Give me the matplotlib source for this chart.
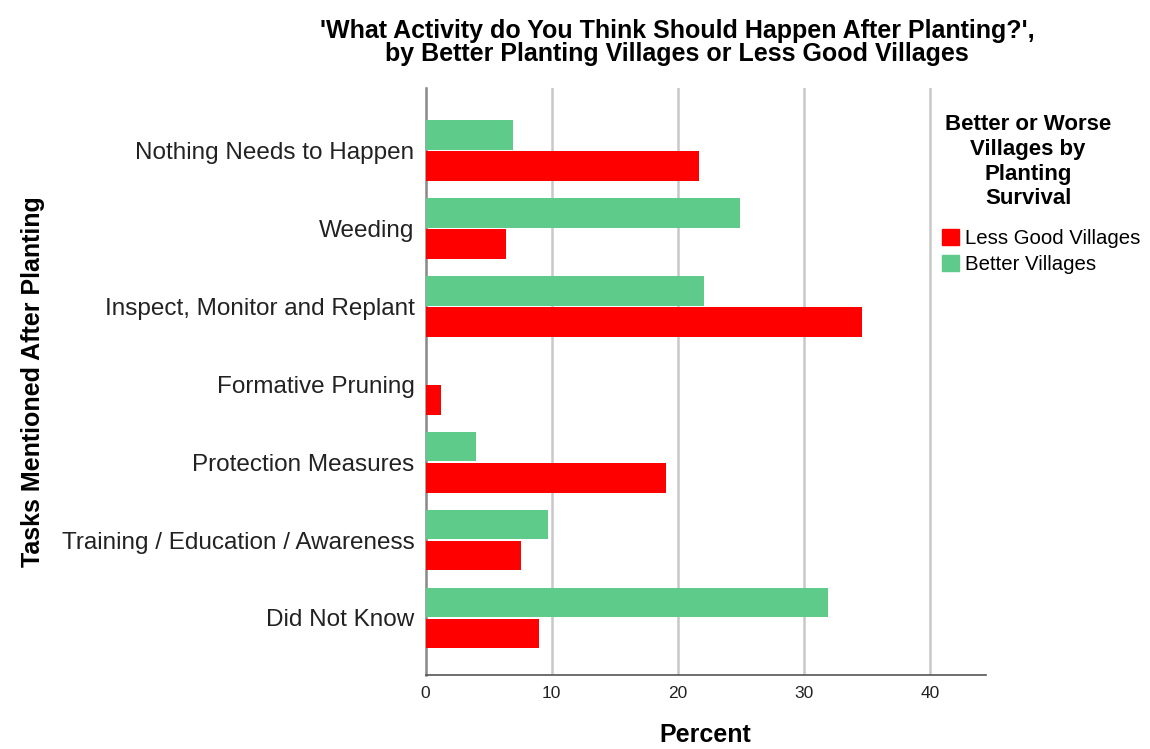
import numpy as np
import matplotlib.pyplot as plt
from matplotlib.patches import Patch

plt.rcParams['font.family'] = ['Liberation Sans', 'DejaVu Sans']

# data
tasks = ["Nothing Needs to Happen", "Weeding", "Inspect, Monitor and Replant",
         "Formative Pruning", "Protection Measures",
         "Training / Education / Awareness", "Did Not Know"]
better = [6.9, 24.9, 22.1, 0.0, 4.0, 9.7, 31.9]
less_good = [21.7, 6.4, 34.6, 1.2, 19.1, 7.6, 9.0]
xticks = [0, 10, 20, 30, 40]

green = "#5fcb8a"
red = "#ff0000"

fig = plt.figure(figsize=(11.5, 7.49), dpi=100)
ax = fig.add_axes([0.370, 0.099, 0.487, 0.783])

y = np.arange(len(tasks))
h = 0.38
ax.barh(y - 0.2, better, height=h, color=green, zorder=3)
ax.barh(y + 0.2, less_good, height=h, color=red, zorder=3)

ax.set_ylim(6.73, -0.8)
ax.set_xlim(0, 44.4)
ax.set_yticks(y)
ax.set_yticklabels(tasks, fontsize=17.5, color="#222222")
ax.set_xticks(xticks)
ax.set_xticklabels([str(t) for t in xticks], fontsize=12.5, color="#222222")
ax.tick_params(axis="y", length=0, pad=8)
ax.tick_params(axis="x", length=0, pad=8)

for t in xticks[1:]:
    ax.axvline(t, color="#c8c8c8", lw=1.8, zorder=1)

for s in ["top", "right"]:
    ax.spines[s].set_visible(False)
ax.spines["left"].set_color("#888888")
ax.spines["left"].set_linewidth(1.8)
ax.spines["bottom"].set_color("#555555")
ax.spines["bottom"].set_linewidth(1.2)

ax.set_xlabel("Percent", fontsize=18, fontweight="bold", labelpad=16)
ax.set_ylabel("Tasks Mentioned After Planting", fontsize=18, fontweight="bold", labelpad=12)

fig.text(0.589, 0.943, "'What Activity do You Think Should Happen After Planting?',\nby Better Planting Villages or Less Good Villages",
         ha="center", va="center", fontsize=18, fontweight="bold", linespacing=0.95)

# legend title drawn separately to match spacing
fig.text(0.894, 0.848, "Better or Worse\nVillages by\nPlanting\nSurvival",
         ha="center", va="top", fontsize=16, fontweight="bold", linespacing=1.24)

handles = [Patch(color=red, label="Less Good Villages"),
           Patch(color=green, label="Better Villages")]
leg = fig.legend(handles=handles, loc="upper left", bbox_to_anchor=(0.819, 0.694),
                 frameon=False, borderpad=0, borderaxespad=0,
                 fontsize=14.7, handlelength=0.85, handleheight=0.85, handletextpad=0.3,
                 labelspacing=0.3)

fig.savefig("out.png", dpi=100)
